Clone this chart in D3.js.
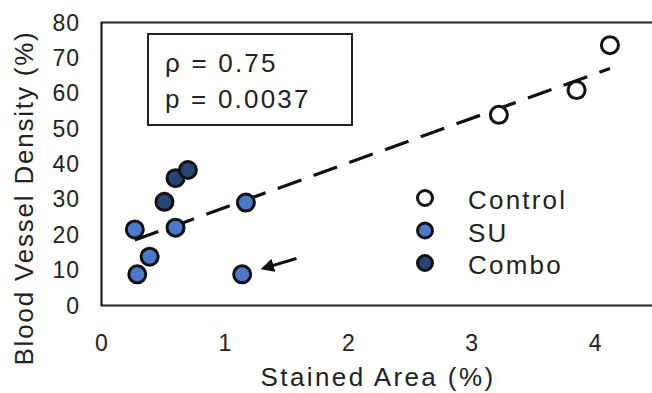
<!DOCTYPE html>
<html>
<head>
<meta charset="utf-8">
<script src="https://cdn.jsdelivr.net/npm/d3@7"></script>
<style>
  body { margin: 0; background: #fff; }
  svg { display: block; font-family: "Liberation Sans", Arial, sans-serif; }
</style>
</head>
<body>
<svg id="chart" width="652" height="393"></svg>
<script>
// values
const controlX = [3.22, 3.85, 4.12]
const controlY = [53.9, 60.9, 73.6]
const suX = [0.27, 0.60, 0.39, 0.29, 1.14, 1.17]
const suY = [21.5, 22.0, 13.8, 8.8, 8.8, 29.1]
const comboX = [0.51, 0.60, 0.70]
const comboY = [29.3, 36.0, 38.3]
const xTicks = [0, 1, 2, 3, 4]
const yTicks = [0, 10, 20, 30, 40, 50, 60, 70, 80]
const groups = ['Control', 'SU', 'Combo']
const fills = ['#ffffff', '#4a7acb', '#274677']
// dashed regression line (fit)
const fitX = [0.27, 4.12]
const fitSlope = 12.6
const fitIntercept = 15.1
const statLines = ['ρ = 0.75', 'p = 0.0037']
// annotation arrow, data units: tail then head
const arrowPts = [[1.58, 13.3], [1.31, 10.5]]

const svg = d3.select('#chart')
const x = d3.scaleLinear().domain([0, 4.5]).range([101.5, 656.8])
const y = d3.scaleLinear().domain([0, 80]).range([305.5, 22.5])

//frame: left, top and bottom lines (right side runs off the picture)
const frame = svg.append('g').attr('stroke', '#222').attr('stroke-width', 2.2).attr('fill', 'none')
frame.append('path').attr('d', `M${x(4.5)},${y(80)}H${x(0)}V${y(0)}H${x(4.5)}`)

// tick labels only, no tick marks
svg.append('g').selectAll('text').data(yTicks).join('text')
    .attr('x', 80).attr('y', d => y(d) + 8)
    .attr('text-anchor', 'end').attr('font-size', 23).attr('letter-spacing', 1)
    .attr('fill', '#222').text(d => d)
svg.append('g').selectAll('text').data(xTicks).join('text')
    .attr('x', d => x(d)).attr('y', 351)
    .attr('text-anchor', 'middle').attr('font-size', 23)
    .attr('fill', '#222').text(d => d)

// axis titles
svg.append('text').attr('transform', 'translate(33,198) rotate(-90)')
    .attr('text-anchor', 'middle').attr('font-size', 26).attr('letter-spacing', 1.8)
    .attr('fill', '#222').text('Blood Vessel Density (%)')
svg.append('text').attr('x', 378).attr('y', 386)
    .attr('text-anchor', 'middle').attr('font-size', 26).attr('letter-spacing', 2.4)
    .attr('fill', '#222').text('Stained Area (%)')

// stats box
svg.append('rect').attr('x', 148).attr('y', 34).attr('width', 204).attr('height', 91)
    .attr('fill', '#fff').attr('stroke', '#222').attr('stroke-width', 2)
svg.append('g').selectAll('text').data(statLines).join('text')
    .attr('x', 165).attr('y', (d, i) => 72 + i * 36)
    .attr('font-size', 26).attr('letter-spacing', 2.2).attr('fill', '#222').text(d => d)

// trend line
const line = d3.line().x(d => x(d)).y(d => y(fitIntercept + fitSlope * d))
svg.append('path').attr('d', line(fitX))
    .attr('fill', 'none').attr('stroke', '#111').attr('stroke-width', 3.2)
    .attr('stroke-dasharray', '25,13')

// points
const pts = []
controlX.forEach((d, i) => pts.push({x: d, y: controlY[i], g: 0}))
suX.forEach((d, i) => pts.push({x: d, y: suY[i], g: 1}))
comboX.forEach((d, i) => pts.push({x: d, y: comboY[i], g: 2}))
svg.append('g').selectAll('circle').data(pts).join('circle')
    .attr('cx', d => x(d.x)).attr('cy', d => y(d.y)).attr('r', 8.5)
    .attr('fill', d => fills[d.g]).attr('stroke', '#111').attr('stroke-width', 3)

// arrow
svg.append('defs').append('marker').attr('id', 'head')
    .attr('viewBox', '0 0 10 10').attr('refX', 8).attr('refY', 5)
    .attr('markerWidth', 4.5).attr('markerHeight', 4.5).attr('orient', 'auto')
    .append('path').attr('d', 'M0,0L10,5L0,10Z').attr('fill', '#111')
svg.append('path').attr('d', d3.line().x(d => x(d[0])).y(d => y(d[1]))(arrowPts))
    .attr('stroke', '#111').attr('stroke-width', 3).attr('marker-end', 'url(#head)')

// legend
const leg = svg.append('g').selectAll('g').data(groups).join('g')
    .attr('transform', (d, i) => `translate(425,${198 + i * 32.5})`)
leg.append('circle').attr('r', 7.5).attr('fill', (d, i) => fills[i])
    .attr('stroke', '#111').attr('stroke-width', 3)
leg.append('text').attr('x', 43).attr('y', 11).attr('font-size', 26)
    .attr('letter-spacing', 2.2).attr('fill', '#222').text(d => d)
</script>
</body>
</html>
